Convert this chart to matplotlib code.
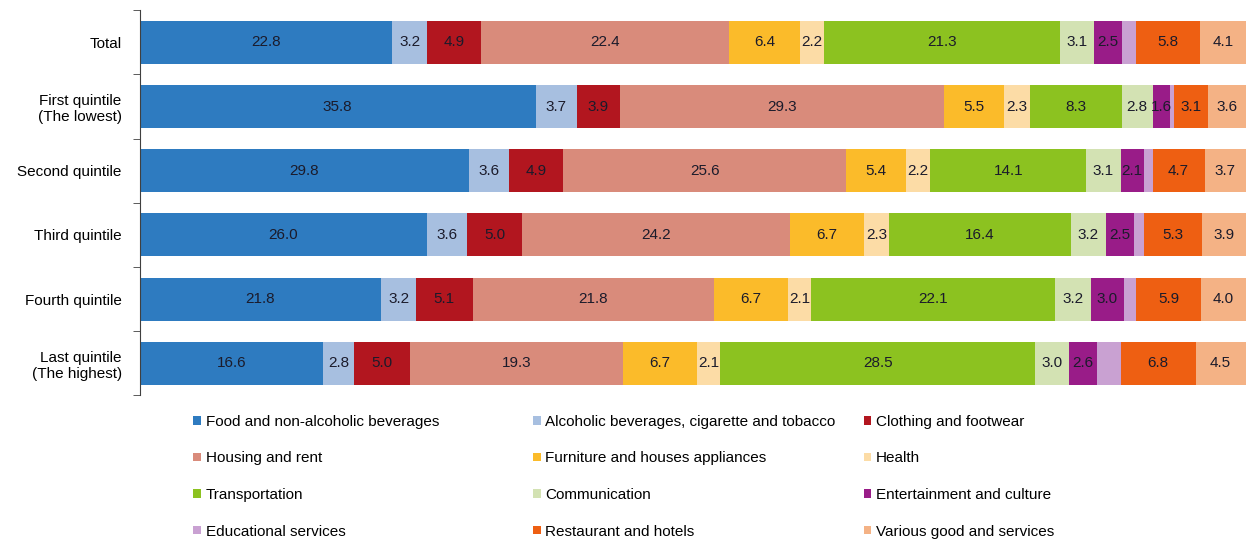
import numpy as np
import matplotlib.pyplot as plt
from matplotlib.patches import Patch

plt.rcParams['font.family'] = ['Liberation Sans', 'DejaVu Sans']

groups = ["Total", "First quintile\n(The lowest)", "Second quintile", "Third quintile",
          "Fourth quintile", "Last quintile\n(The highest)"]

categories = ["Food and non-alcoholic beverages", "Alcoholic beverages, cigarette and tobacco",
              "Clothing and footwear", "Housing and rent", "Furniture and houses appliances",
              "Health", "Transportation", "Communication", "Entertainment and culture",
              "Educational services", "Restaurant and hotels", "Various good and services"]

food = [22.8, 35.8, 29.8, 26.0, 21.8, 16.6]
alcohol = [3.2, 3.7, 3.6, 3.6, 3.2, 2.8]
clothing = [4.9, 3.9, 4.9, 5.0, 5.1, 5.0]
housing = [22.4, 29.3, 25.6, 24.2, 21.8, 19.3]
furniture = [6.4, 5.5, 5.4, 6.7, 6.7, 6.7]
health = [2.2, 2.3, 2.2, 2.3, 2.1, 2.1]
transport = [21.3, 8.3, 14.1, 16.4, 22.1, 28.5]
communication = [3.1, 2.8, 3.1, 3.2, 3.2, 3.0]
entertainment = [2.5, 1.6, 2.1, 2.5, 3.0, 2.6]
education = [1.3, 0.3, 0.8, 0.9, 1.1, 2.1]   # unlabeled in the original, estimated
restaurant = [5.8, 3.1, 4.7, 5.3, 5.9, 6.8]
various = [4.1, 3.6, 3.7, 3.9, 4.0, 4.5]

series = [food, alcohol, clothing, housing, furniture, health, transport,
          communication, entertainment, education, restaurant, various]
colors = ["#2e7bc0", "#a7bfe0", "#b2161f", "#d98b7b", "#fbbb2a", "#fcdca6",
          "#8cc220", "#d3e2b3", "#991c88", "#c9a1d2", "#ee5f12", "#f4b285"]
show_label = [True] * 9 + [False] + [True] * 2

fig = plt.figure(figsize=(12.48, 5.4), dpi=100)
ax = fig.add_axes([0.112, 0.268, 0.886, 0.713])

y = np.arange(len(groups))
left = np.zeros(len(groups))
for vals, col, lab in zip(series, colors, show_label):
    vals = np.array(vals)
    bars = ax.barh(y, vals, left=left, height=0.67, color=col, edgecolor='none')
    if lab:
        ax.bar_label(bars, labels=[f"{v:.1f}" for v in vals], label_type='center',
                     fontsize=11, color="#1b1b2b")
    left += vals

ax.set_xlim(0, 100)
ax.set_ylim(len(groups) - 0.5, -0.5)
ax.set_yticks(y)
ax.set_yticklabels(groups, fontsize=11)
ax.tick_params(axis='y', which='major', length=0, pad=13)
ax.set_yticks(np.arange(len(groups) + 1) - 0.5, minor=True)
ax.tick_params(axis='y', which='minor', length=5, direction='out', color='#404040')
ax.set_xticks([])
for s in ['top', 'right', 'bottom']:
    ax.spines[s].set_visible(False)
ax.spines['left'].set_color('#404040')

# legend: three columns, filled row by row
handles = [Patch(facecolor=c, edgecolor='none') for c in colors]
col_x = [0.155, 0.427, 0.692]
for i in range(3):
    fig.legend(handles[i::3], categories[i::3], loc='upper left',
               bbox_to_anchor=(col_x[i], 0.232), frameon=False, fontsize=11,
               handlelength=0.5, handleheight=0.5, handletextpad=0.3,
               labelspacing=1.48, borderpad=0, borderaxespad=0)

plt.savefig("out.png", dpi=100)
plt.close()
